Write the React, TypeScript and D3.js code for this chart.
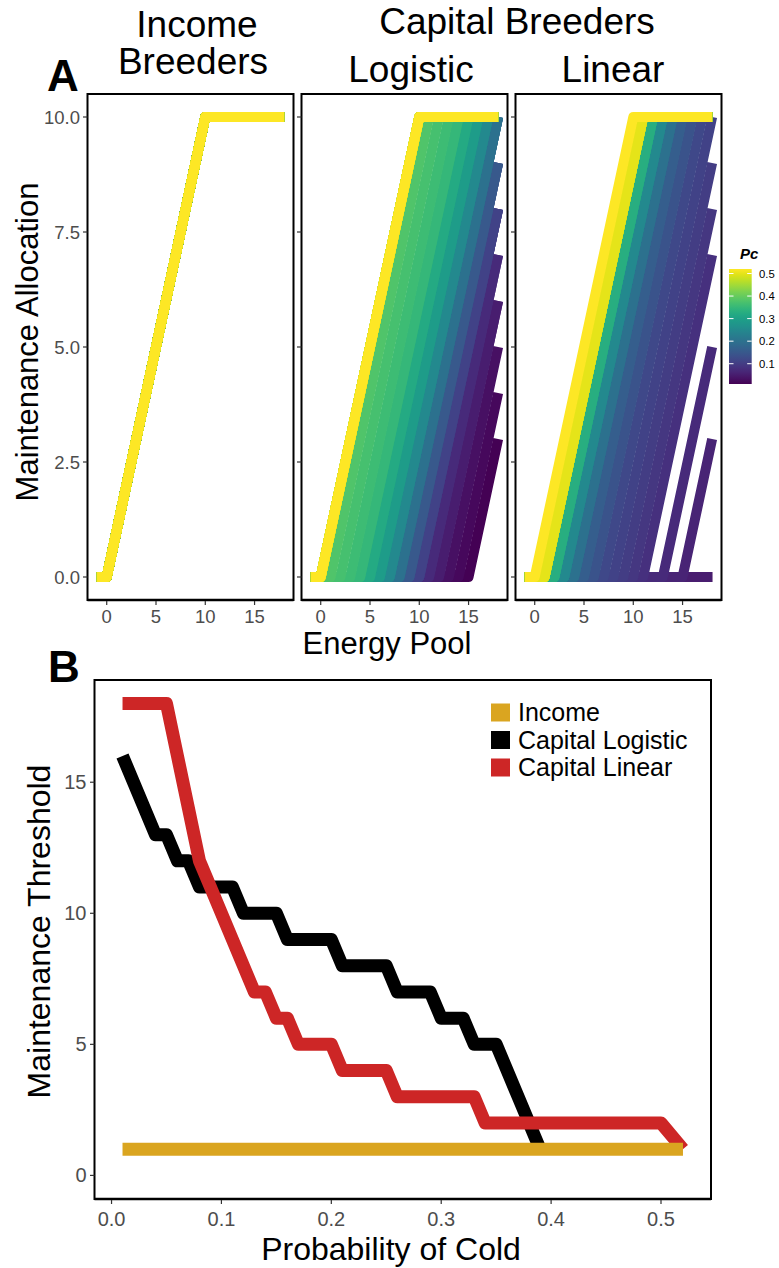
import React from "react";
import * as d3 from "d3";

// ---------- DATA ----------
// Probability of cold (Pc) values
const PC = [
  0.01, 0.02, 0.03, 0.04, 0.05, 0.06, 0.07, 0.08, 0.09, 0.1,
  0.11, 0.12, 0.13, 0.14, 0.15, 0.16, 0.17, 0.18, 0.19, 0.2,
  0.21, 0.22, 0.23, 0.24, 0.25, 0.26, 0.27, 0.28, 0.29, 0.3,
  0.31, 0.32, 0.33, 0.34, 0.35, 0.36, 0.37, 0.38, 0.39, 0.4,
  0.41, 0.42, 0.43, 0.44, 0.45, 0.46, 0.47, 0.48, 0.49, 0.5,
  0.51, 0.52,
];
// Maintenance threshold, income breeders (all Pc)
const INCOME_THRESHOLD = [
  1, 1, 1, 1, 1, 1, 1, 1, 1, 1, 1, 1, 1, 1, 1, 1, 1, 1, 1, 1, 1, 1, 1, 1, 1, 1,
  1, 1, 1, 1, 1, 1, 1, 1, 1, 1, 1, 1, 1, 1, 1, 1, 1, 1, 1, 1, 1, 1, 1, 1, 1, 1,
];
// Capital logistic: Pc 0.01 .. 0.39
const LOGISTIC_PC = [
  0.01, 0.02, 0.03, 0.04, 0.05, 0.06, 0.07, 0.08, 0.09, 0.1,
  0.11, 0.12, 0.13, 0.14, 0.15, 0.16, 0.17, 0.18, 0.19, 0.2,
  0.21, 0.22, 0.23, 0.24, 0.25, 0.26, 0.27, 0.28, 0.29, 0.3,
  0.31, 0.32, 0.33, 0.34, 0.35, 0.36, 0.37, 0.38, 0.39,
];
const LOGISTIC_THRESHOLD = [
  16, 15, 14, 13, 13, 12, 12, 11, 11, 11,
  11, 10, 10, 10, 10, 9, 9, 9, 9, 9,
  8, 8, 8, 8, 8, 7, 7, 7, 7, 6,
  6, 6, 5, 5, 5, 4, 3, 2, 1,
];
// Capital logistic allocation curves for Pc 0.40 .. 0.52 (panel A only)
const LOGISTIC_HIGH_PC = [0.4, 0.41, 0.42, 0.43, 0.44, 0.45, 0.46, 0.47, 0.48, 0.49, 0.5, 0.51, 0.52];
const LOGISTIC_HIGH_THRESHOLD = [1, 1, 1, 1, 1, 1, 1, 1, 1, 1, 1, 1, 1];
// Capital linear
const LINEAR_PC = [
  0.01, 0.02, 0.03, 0.04, 0.05, 0.06, 0.07, 0.08, 0.09, 0.1,
  0.11, 0.12, 0.13, 0.14, 0.15, 0.16, 0.17, 0.18, 0.19, 0.2,
  0.21, 0.22, 0.23, 0.24, 0.25, 0.26, 0.27, 0.28, 0.29, 0.3,
  0.31, 0.32, 0.33, 0.34, 0.35, 0.36, 0.37, 0.38, 0.39, 0.4,
  0.41, 0.42, 0.43, 0.44, 0.45, 0.46, 0.47, 0.48, 0.49, 0.5,
  0.52,
];
const LINEAR_THRESHOLD = [
  18, 18, 18, 18, 18, 16, 14, 12, 11, 10,
  9, 8, 7, 7, 6, 6, 5, 5, 5, 5,
  4, 4, 4, 4, 4, 3, 3, 3, 3, 3,
  3, 3, 3, 2, 2, 2, 2, 2, 2, 2,
  2, 2, 2, 2, 2, 2, 2, 2, 2, 2,
  1,
];
// Energy pool grid
const ENERGY = [-1, 0, 1, 2, 3, 4, 5, 6, 7, 8, 9, 10, 11, 12, 13, 14, 15, 16, 17, 18];
const MAX_ALLOC = 10;
const MAX_POOL = 18; // a threshold at the top of the pool means no allocation

const A_X_TICKS = [0, 5, 10, 15];
const A_Y_TICKS = [0, 2.5, 5, 7.5, 10];
const B_X_TICKS = [0, 0.1, 0.2, 0.3, 0.4, 0.5];
const B_Y_TICKS = [0, 5, 10, 15];
const CB_TICKS = [0.1, 0.2, 0.3, 0.4, 0.5];

const SERIES_NAMES = ["Income", "Capital Logistic", "Capital Linear"];
const SERIES_COLORS = ["#DAA520", "#000000", "#CD2626"];

// ---------- LAYOUT ----------
const W = 779;
const H = 1268;
const FONT = "'Liberation Sans', Arial, Helvetica, sans-serif";
const TICK_COL = "#4D4D4D";

const A_TOP = 94;
const A_BOTTOM = 600;
const B_LEFT = 94.5;
const B_RIGHT = 711;
const B_TOP = 680;
const B_BOTTOM = 1199;

const allocation = (e: number, t: number) =>
  t >= MAX_POOL ? 0 : Math.max(0, Math.min(MAX_ALLOC, e - t + 1));

const colorScale = d3.scaleSequential(d3.interpolateViridis).domain([0.01, 0.52]);

type Curve = { pc: number; t: number };

const zipCurves = (pcs: number[], ts: number[]): Curve[] => pcs.map((p, i) => ({ pc: p, t: ts[i] }));

const FACETS = [
  { key: "income", x0: 87.5, x1: 293.5, curves: zipCurves(PC, INCOME_THRESHOLD) },
  {
    key: "logistic",
    x0: 301.5,
    x1: 507.5,
    curves: zipCurves(LOGISTIC_PC, LOGISTIC_THRESHOLD).concat(zipCurves(LOGISTIC_HIGH_PC, LOGISTIC_HIGH_THRESHOLD)),
  },
  { key: "linear", x0: 515.5, x1: 721.5, curves: zipCurves(LINEAR_PC, LINEAR_THRESHOLD) },
];

const yA = d3.scaleLinear().domain([-0.5, 10.5]).range([A_BOTTOM, A_TOP]);
const xB = d3.scaleLinear().domain([-0.0155, 0.5455]).range([B_LEFT, B_RIGHT]);
const yB = d3.scaleLinear().domain([-0.9, 18.9]).range([B_BOTTOM, B_TOP]);

function Facet({ f, idx }: { f: (typeof FACETS)[number]; idx: number }) {
  const x = d3.scaleLinear().domain([-1.95, 18.95]).range([f.x0, f.x1]);
  const sorted = [...f.curves].sort((a, b) => a.pc - b.pc);
  const clipId = `clipA${idx}`;
  return (
    <g>
      <defs>
        <clipPath id={clipId}>
          <rect x={f.x0} y={A_TOP} width={f.x1 - f.x0} height={A_BOTTOM - A_TOP} />
        </clipPath>
      </defs>
      <g clipPath={`url(#${clipId})`}>
        {sorted.map((c, i) => {
          const gen = d3
            .line<number>()
            .x((e) => x(e))
            .y((e) => yA(allocation(e, c.t)));
          return (
            <path
              key={i}
              d={gen(ENERGY) || ""}
              fill="none"
              stroke={colorScale(c.pc)}
              strokeWidth={10}
              strokeLinejoin="round"
              strokeLinecap="butt"
            />
          );
        })}
      </g>
      <rect x={f.x0} y={A_TOP} width={f.x1 - f.x0} height={A_BOTTOM - A_TOP} fill="none" stroke="#000" strokeWidth={2} />
      <line x1={f.x0} x2={f.x1} y1={A_BOTTOM} y2={A_BOTTOM} stroke="#000" strokeWidth={2.6} />
      {A_X_TICKS.map((t) => (
        <g key={t}>
          <line x1={x(t)} x2={x(t)} y1={A_BOTTOM + 1} y2={A_BOTTOM + 5} stroke="#333" strokeWidth={1.2} />
          <text x={x(t)} y={623} textAnchor="middle" fontFamily={FONT} fontSize={18.5} fill={TICK_COL}>
            {t}
          </text>
        </g>
      ))}
      {A_Y_TICKS.map((t) => (
        <g key={t}>
          <line x1={f.x0 - 4.5} x2={f.x0} y1={yA(t)} y2={yA(t)} stroke="#333" strokeWidth={1.2} />
          {idx === 0 && (
            <text x={f.x0 - 7.5} y={yA(t) + 6.5} textAnchor="end" fontFamily={FONT} fontSize={18.5} fill={TICK_COL}>
              {t.toFixed(1)}
            </text>
          )}
        </g>
      ))}
    </g>
  );
}

function PanelB() {
  const seriesData: { x: number[]; y: number[] }[] = [
    { x: PC, y: INCOME_THRESHOLD },
    { x: LOGISTIC_PC, y: LOGISTIC_THRESHOLD },
    { x: LINEAR_PC, y: LINEAR_THRESHOLD },
  ];
  const drawOrder = [1, 2, 0];
  const line = d3
    .line<[number, number]>()
    .x((d) => xB(d[0]))
    .y((d) => yB(d[1]));
  return (
    <g>
      <defs>
        <clipPath id="clipB">
          <rect x={B_LEFT} y={B_TOP} width={B_RIGHT - B_LEFT} height={B_BOTTOM - B_TOP} />
        </clipPath>
      </defs>
      <g clipPath="url(#clipB)">
        {drawOrder.map((si) => {
          const s = seriesData[si];
          const pts = s.x.map((v, i) => [v, s.y[i]] as [number, number]);
          return (
            <path
              key={si}
              d={line(pts) || ""}
              fill="none"
              stroke={SERIES_COLORS[si]}
              strokeWidth={13}
              strokeLinejoin="round"
              strokeLinecap="butt"
            />
          );
        })}
      </g>
      <rect x={B_LEFT} y={B_TOP} width={B_RIGHT - B_LEFT} height={B_BOTTOM - B_TOP} fill="none" stroke="#000" strokeWidth={2} />
      <line x1={B_LEFT} x2={B_RIGHT} y1={B_BOTTOM} y2={B_BOTTOM} stroke="#000" strokeWidth={2.4} />
      {B_X_TICKS.map((t) => (
        <g key={t}>
          <line x1={xB(t)} x2={xB(t)} y1={B_BOTTOM + 1} y2={B_BOTTOM + 5} stroke="#333" strokeWidth={1.2} />
          <text x={xB(t)} y={1226} textAnchor="middle" fontFamily={FONT} fontSize={20} fill={TICK_COL}>
            {t.toFixed(1)}
          </text>
        </g>
      ))}
      {B_Y_TICKS.map((t) => (
        <g key={t}>
          <line x1={B_LEFT - 4.5} x2={B_LEFT} y1={yB(t)} y2={yB(t)} stroke="#333" strokeWidth={1.2} />
          <text x={B_LEFT - 8} y={yB(t) + 7} textAnchor="end" fontFamily={FONT} fontSize={20} fill={TICK_COL}>
            {t}
          </text>
        </g>
      ))}
      {/* legend */}
      {SERIES_NAMES.map((n, i) => {
        const cy = 712.5 + i * 27.5;
        return (
          <g key={n}>
            <rect x={491} y={cy - 9} width={19} height={18} fill={SERIES_COLORS[i]} />
            <text x={518} y={cy + 8.5} fontFamily={FONT} fontSize={25} fill="#000">
              {n}
            </text>
          </g>
        );
      })}
      <text
        transform={`translate(50, ${(B_TOP + B_BOTTOM) / 2 - 8}) rotate(-90)`}
        textAnchor="middle"
        fontFamily={FONT}
        fontSize={32}
        fill="#000"
      >
        Maintenance Threshold
      </text>
      <text x={391} y={1260} textAnchor="middle" fontFamily={FONT} fontSize={32} fill="#000">
        Probability of Cold
      </text>
    </g>
  );
}

function ColorBar() {
  const x0 = 729;
  const w = 22.7;
  const top = 269;
  const bottom = 384;
  const cbY = d3.scaleLinear().domain([0.01, 0.52]).range([bottom, top]);
  const stops = d3.range(0, 1.0001, 0.05);
  return (
    <g>
      <defs>
        <linearGradient id="vir" x1="0" y1="1" x2="0" y2="0">
          {stops.map((s, i) => (
            <stop key={i} offset={s} stopColor={d3.interpolateViridis(s)} />
          ))}
        </linearGradient>
      </defs>
      <text x={740} y={259} fontFamily={FONT} fontSize={15} fontWeight="bold" fontStyle="italic" fill="#000">
        Pc
      </text>
      <rect x={x0} y={top} width={w} height={bottom - top} fill="url(#vir)" />
      {CB_TICKS.map((t) => (
        <g key={t}>
          <line x1={x0} x2={x0 + 4.5} y1={cbY(t)} y2={cbY(t)} stroke="#fff" strokeWidth={1} />
          <line x1={x0 + w - 4.5} x2={x0 + w} y1={cbY(t)} y2={cbY(t)} stroke="#fff" strokeWidth={1} />
          <text x={759} y={cbY(t) + 4} fontFamily={FONT} fontSize={11.3} fill="#000">
            {t.toFixed(1)}
          </text>
        </g>
      ))}
    </g>
  );
}

export default function App() {
  return (
    <svg
      width={W}
      height={H}
      viewBox={`0 0 ${W} ${H}`}
      style={{ position: "absolute", left: 0, top: 0, background: "#fff", display: "block" }}
    >
      <rect x={0} y={0} width={W} height={H} fill="#fff" />
      {/* Titles */}
      <text x={197} y={37} textAnchor="middle" fontFamily={FONT} fontSize={37}>
        Income
      </text>
      <text x={193} y={74} textAnchor="middle" fontFamily={FONT} fontSize={37}>
        Breeders
      </text>
      <text x={517} y={34} textAnchor="middle" fontFamily={FONT} fontSize={37}>
        Capital Breeders
      </text>
      <text x={411} y={82} textAnchor="middle" fontFamily={FONT} fontSize={37}>
        Logistic
      </text>
      <text x={613} y={82} textAnchor="middle" fontFamily={FONT} fontSize={37}>
        Linear
      </text>
      <text x={47} y={91} fontFamily={FONT} fontSize={44} fontWeight="bold">
        A
      </text>
      <text x={48} y={682} fontFamily={FONT} fontSize={44} fontWeight="bold">
        B
      </text>

      {FACETS.map((f, i) => (
        <Facet key={f.key} f={f} idx={i} />
      ))}
      <text
        transform={`translate(38, ${(A_TOP + A_BOTTOM) / 2 - 5}) rotate(-90)`}
        textAnchor="middle"
        fontFamily={FONT}
        fontSize={31}
        fill="#000"
      >
        Maintenance Allocation
      </text>
      <text x={387} y={654} textAnchor="middle" fontFamily={FONT} fontSize={31} fill="#000">
        Energy Pool
      </text>
      <ColorBar />
      <PanelB />
    </svg>
  );
}
